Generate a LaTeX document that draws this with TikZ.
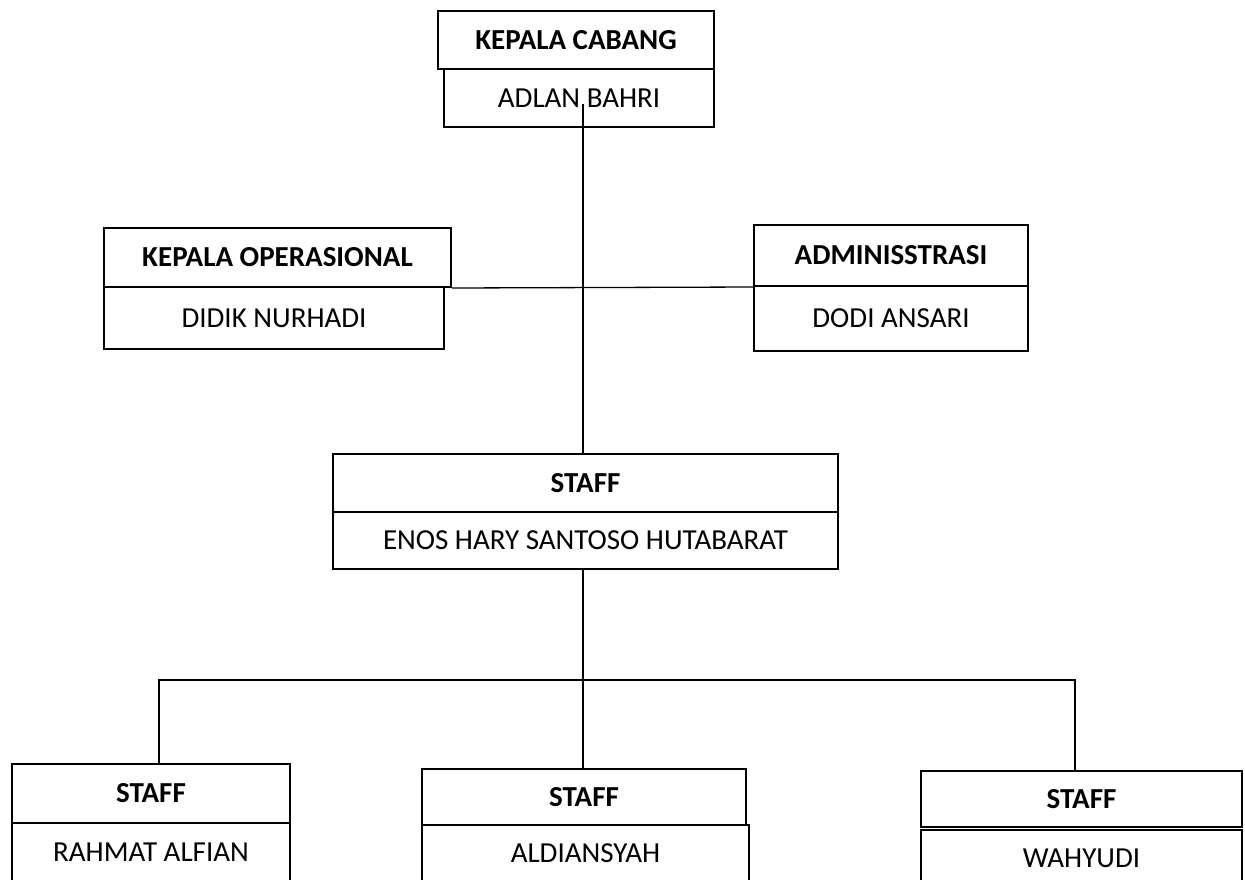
\documentclass[tikz,border=0pt]{standalone}
\usepackage{fontspec}
\setmainfont{Carlito}
\begin{document}
\begin{tikzpicture}[x=1pt,y=-1pt,
  boxbase/.style={draw=black, line width=2pt, inner sep=0pt, anchor=north west},
  titlebox/.style={boxbase, font=\fontsize{29}{34}\selectfont\bfseries},
  namebox/.style={boxbase, font=\fontsize{29}{34}\selectfont},
  link/.style={draw=black, line width=1.3pt}]
\useasboundingbox (0,0) rectangle (1245,879);
% Kepala Cabang
\node[titlebox, minimum width=276pt, minimum height=58pt] (kct) at (437,10) {KEPALA CABANG};
\node[namebox, minimum width=270pt, minimum height=58pt] (kcn) at (443,68) {ADLAN BAHRI};
% Kepala Operasional
\node[titlebox, minimum width=347pt, minimum height=59pt] (kot) at (103,227) {KEPALA OPERASIONAL};
\node[namebox, minimum width=340pt, minimum height=62pt] (kon) at (103,286) {DIDIK NURHADI};
% Administrasi
\node[titlebox, minimum width=274pt, minimum height=61pt] (admt) at (753,224) {ADMINISSTRASI};
\node[namebox, minimum width=274pt, minimum height=65pt] (admn) at (753,285) {DODI ANSARI};
% Staff middle
\node[titlebox, minimum width=505pt, minimum height=58pt] (stt) at (332,453) {STAFF};
\node[namebox, minimum width=505pt, minimum height=57pt] (stn) at (332,511) {ENOS HARY SANTOSO HUTABARAT};
% Bottom staff
\node[titlebox, minimum width=278pt, minimum height=59pt] (s1t) at (11,763) {STAFF};
\node[namebox, minimum width=278pt, minimum height=78pt, text depth=20pt] (s1n) at (11,822) {RAHMAT ALFIAN};
\node[titlebox, minimum width=324pt, minimum height=56pt] (s2t) at (421,768) {STAFF};
\node[namebox, minimum width=327pt, minimum height=76pt, text depth=20pt] (s2n) at (421,824) {ALDIANSYAH};
\node[titlebox, minimum width=321pt, minimum height=56pt] (s3t) at (920,770) {STAFF};
\node[namebox, minimum width=321pt, minimum height=71pt, text depth=14pt] (s3n) at (920,829) {WAHYUDI};
% connectors
\coordinate (kcin) at (583,104);
\coordinate (hub) at (583,680);
\coordinate (leftend) at (159,680);
\coordinate (rightend) at (1075,680);
\draw[link] (kcin) -- (kcin |- stt.north);
\draw[link] (kot.south east) -- (admt.south west);
\draw[link] (hub |- stn.south) -- (hub) -- (hub |- s2t.north);
\draw[link] (leftend |- s1t.north) -- (leftend) -- (rightend) -- (rightend |- s3t.north);
\end{tikzpicture}
\end{document}
